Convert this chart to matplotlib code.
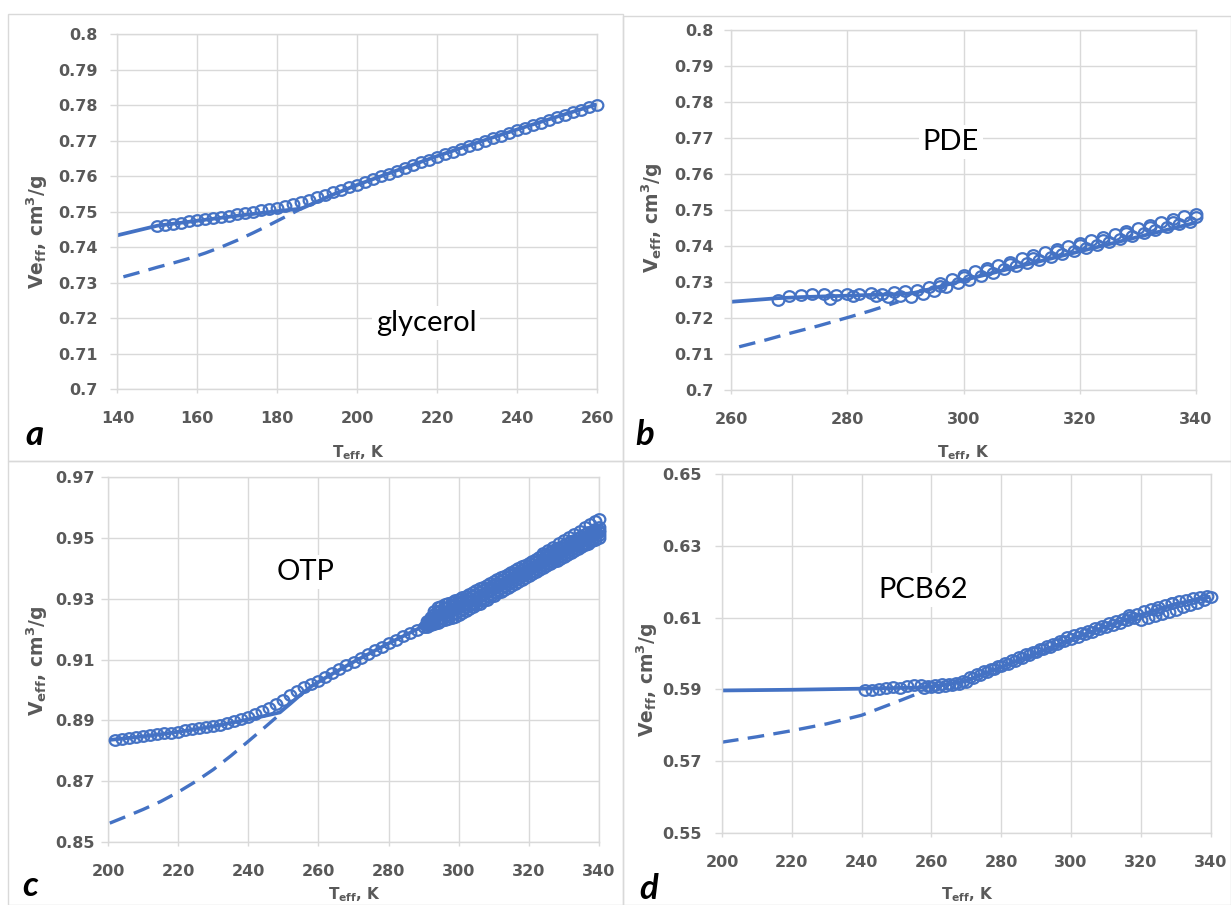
import matplotlib
matplotlib.use("Agg")
import matplotlib.pyplot as plt
import matplotlib.font_manager as fm
from matplotlib.path import Path
from matplotlib.transforms import Affine2D
from matplotlib.patches import Rectangle

W, H = 1231, 905
BLUE = '#4472C4'
GRID = '#D9D9D9'
TXT = '#595959'


def pick_family():
    for fam in ['Lato', 'Open Sans', 'Noto Sans', 'Liberation Sans']:
        try:
            path = fm.findfont(fm.FontProperties(family=fam, weight='bold'),
                               fallback_to_default=False)
            if 'bold' in path.lower():
                return fam
        except Exception:
            pass
    return 'DejaVu Sans'


FAM = pick_family()
AXF = ['DejaVu Sans']          # wide bold face for ticks / axis titles
plt.rcParams['font.family'] = [FAM, 'DejaVu Sans']

# ------------------------------------------------------------------ data
# (a) glycerol
a_circ_T = [150, 152, 154, 156, 158, 160, 162, 164, 166, 168, 170, 172, 174, 176, 178,
            180, 182, 184, 186, 188, 190, 192, 194, 196, 198, 200, 202, 204, 206, 208,
            210, 212, 214, 216, 218, 220, 222, 224, 226, 228, 230, 232, 234, 236, 238,
            240, 242, 244, 246, 248, 250, 252, 254, 256, 258, 260]
a_circ_V = [0.7460, 0.7463, 0.7466, 0.7469, 0.7472, 0.7475, 0.7478, 0.7481, 0.7485, 0.7488,
            0.7492, 0.7495, 0.7499, 0.7503, 0.7507, 0.7511, 0.7515, 0.7520, 0.7526, 0.7533,
            0.7540, 0.7547, 0.7554, 0.7561, 0.7568, 0.7575, 0.7583, 0.7591, 0.7599, 0.7607,
            0.7615, 0.7623, 0.7631, 0.7639, 0.7646, 0.7654, 0.7661, 0.7669, 0.7676, 0.7684,
            0.7691, 0.7699, 0.7706, 0.7714, 0.7721, 0.7729, 0.7736, 0.7743, 0.7750, 0.7757,
            0.7765, 0.7772, 0.7779, 0.7786, 0.7793, 0.7800]
a_solid_T = [140, 150, 160, 170, 180, 186, 190, 194, 198, 200, 210, 220, 230, 240, 250, 260]
a_solid_V = [0.7433, 0.7460, 0.7474, 0.7488, 0.7501, 0.7508, 0.7528, 0.7548, 0.7566, 0.7575,
             0.7616, 0.7656, 0.7694, 0.7731, 0.7767, 0.7802]
a_dash_T = [141.5, 146, 150, 154, 158, 162, 166, 170, 174, 178, 182, 186]
a_dash_V = [0.7316, 0.7330, 0.7343, 0.7355, 0.7368, 0.7383, 0.7400, 0.7419, 0.7440, 0.7462,
            0.7485, 0.7508]

# (b) PDE
b_circ1_T = [268, 270, 272, 274, 276, 278, 280, 282, 284, 286, 288, 290, 292, 294, 296, 298,
             300, 302, 304, 306, 308, 310, 312, 314, 316, 318, 320, 322, 324, 326, 328, 330,
             332, 334, 336, 338, 340]
b_circ1_V = [0.7251, 0.7260, 0.7265, 0.7266, 0.7266, 0.7265, 0.7266, 0.7268, 0.7270, 0.7266,
             0.7271, 0.7275, 0.7279, 0.7285, 0.7296, 0.7309, 0.7320, 0.7330, 0.7340, 0.7348,
             0.7356, 0.7366, 0.7375, 0.7383, 0.7392, 0.7401, 0.7409, 0.7417, 0.7425, 0.7434,
             0.7442, 0.7451, 0.7459, 0.7467, 0.7475, 0.7483, 0.7490]
b_circ2_T = [277, 281, 285, 287, 289, 291, 293, 295, 297, 299, 301, 303, 305, 307, 309, 311,
             313, 315, 317, 319, 321, 323, 325, 327, 329, 331, 333, 335, 337, 339]
b_circ2_V = [0.7254, 0.7260, 0.7262, 0.7257, 0.7262, 0.7259, 0.7268, 0.7276, 0.7286, 0.7296,
             0.7306, 0.7316, 0.7326, 0.7335, 0.7344, 0.7353, 0.7361, 0.7370, 0.7378, 0.7387,
             0.7395, 0.7403, 0.7411, 0.7420, 0.7428, 0.7436, 0.7444, 0.7452, 0.7460, 0.7467]
b_circ3_T = [296, 300, 304, 308, 312, 316, 320, 324, 328, 332, 336, 340]
b_circ3_V = [0.7290, 0.7313, 0.7333, 0.7350, 0.7368, 0.7386, 0.7402, 0.7418, 0.7435, 0.7452,
             0.7468, 0.7480]
b_solid_T = [260, 264, 268, 272, 276, 280, 284, 288, 291, 295, 300, 310, 320, 330, 340]
b_solid_V = [0.7245, 0.7250, 0.7255, 0.7258, 0.7260, 0.7262, 0.7264, 0.7266, 0.7268, 0.7283,
             0.7305, 0.7345, 0.7385, 0.7425, 0.7465]
b_dash_T = [261.4, 266, 270, 275, 280, 284, 288.8]
b_dash_V = [0.7120, 0.7139, 0.7157, 0.7178, 0.7201, 0.7220, 0.7245]

# (c) OTP
c_circ1_T = [202, 204, 206, 208, 210, 212, 214, 216, 218, 220, 222, 224, 226, 228, 230, 232,
             234, 236, 238, 240, 242, 244, 246, 248, 250, 252, 254, 256, 258, 260, 262, 264,
             266, 268, 270, 272, 274, 276, 278, 280, 282, 284, 286, 288, 290]
c_circ1_V = [0.8836, 0.8839, 0.8842, 0.8845, 0.8848, 0.8851, 0.8854, 0.8857, 0.8860, 0.8863,
             0.8867, 0.8870, 0.8874, 0.8878, 0.8882, 0.8886, 0.8891, 0.8897, 0.8904, 0.8912,
             0.8920, 0.8930, 0.8940, 0.8953, 0.8968, 0.8982, 0.8996, 0.9009, 0.9020, 0.9030,
             0.9043, 0.9056, 0.9069, 0.9081, 0.9093, 0.9106, 0.9118, 0.9130, 0.9142, 0.9153,
             0.9165, 0.9176, 0.9187, 0.9197, 0.9206]
c_band_odd_T = [291, 293, 295, 297, 299, 301, 303, 305, 307, 309, 311, 313, 315, 317, 319,
                321, 323, 325, 327, 329, 331, 333, 335, 337, 339]
c_band_even_T = [292, 294, 296, 298, 300, 302, 304, 306, 308, 310, 312, 314, 316, 318, 320,
                 322, 324, 326, 328, 330, 332, 334, 336, 338, 340]
# dense run, five strands from the lower to the upper edge of the band
c_bandA_odd = [0.9208, 0.9216, 0.9225, 0.9233, 0.9241, 0.9252, 0.9265, 0.9278, 0.9291, 0.9304,
               0.9317, 0.9330, 0.9343, 0.9356, 0.9369, 0.9381, 0.9394, 0.9406, 0.9419, 0.9431,
               0.9444, 0.9456, 0.9469, 0.9481, 0.9494]
c_bandA_even = [0.9212, 0.9220, 0.9229, 0.9237, 0.9245, 0.9258, 0.9271, 0.9284, 0.9297, 0.9310,
                0.9323, 0.9336, 0.9349, 0.9362, 0.9375, 0.9388, 0.9400, 0.9413, 0.9425, 0.9438,
                0.9450, 0.9463, 0.9475, 0.9488, 0.9500]
c_bandB_odd = [0.9212, 0.9227, 0.9238, 0.9246, 0.9254, 0.9265, 0.9278, 0.9291, 0.9303, 0.9316,
               0.9329, 0.9342, 0.9354, 0.9367, 0.9380, 0.9392, 0.9405, 0.9416, 0.9429, 0.9441,
               0.9454, 0.9466, 0.9478, 0.9490, 0.9503]
c_bandB_even = [0.9219, 0.9233, 0.9242, 0.9250, 0.9258, 0.9271, 0.9284, 0.9297, 0.9309, 0.9322,
                0.9335, 0.9348, 0.9360, 0.9373, 0.9386, 0.9399, 0.9411, 0.9423, 0.9435, 0.9448,
                0.9460, 0.9472, 0.9484, 0.9497, 0.9509]
c_bandC_odd = [0.9217, 0.9237, 0.9251, 0.9259, 0.9268, 0.9278, 0.9291, 0.9303, 0.9316, 0.9328,
               0.9341, 0.9353, 0.9366, 0.9378, 0.9391, 0.9403, 0.9415, 0.9427, 0.9439, 0.9451,
               0.9463, 0.9475, 0.9488, 0.9500, 0.9512]
c_bandC_even = [0.9226, 0.9246, 0.9255, 0.9263, 0.9272, 0.9284, 0.9297, 0.9309, 0.9322, 0.9334,
                0.9347, 0.9359, 0.9372, 0.9384, 0.9397, 0.9409, 0.9421, 0.9433, 0.9445, 0.9458,
                0.9469, 0.9482, 0.9494, 0.9506, 0.9518]
c_bandD_odd = [0.9221, 0.9248, 0.9263, 0.9272, 0.9281, 0.9291, 0.9303, 0.9316, 0.9328, 0.9340,
               0.9352, 0.9365, 0.9377, 0.9389, 0.9401, 0.9413, 0.9426, 0.9437, 0.9449, 0.9461,
               0.9473, 0.9485, 0.9497, 0.9509, 0.9520]
c_bandD_even = [0.9233, 0.9259, 0.9268, 0.9276, 0.9285, 0.9297, 0.9309, 0.9322, 0.9334, 0.9346,
                0.9358, 0.9371, 0.9383, 0.9395, 0.9407, 0.9420, 0.9432, 0.9443, 0.9455, 0.9468,
                0.9479, 0.9491, 0.9503, 0.9515, 0.9526]
c_bandE_odd = [0.9225, 0.9258, 0.9276, 0.9285, 0.9294, 0.9304, 0.9316, 0.9328, 0.9340, 0.9352,
               0.9364, 0.9376, 0.9388, 0.9400, 0.9412, 0.9424, 0.9436, 0.9447, 0.9459, 0.9471,
               0.9482, 0.9494, 0.9506, 0.9518, 0.9529]
c_bandE_even = [0.9240, 0.9272, 0.9281, 0.9289, 0.9298, 0.9310, 0.9322, 0.9334, 0.9346, 0.9358,
                0.9370, 0.9382, 0.9394, 0.9406, 0.9418, 0.9430, 0.9442, 0.9453, 0.9465, 0.9477,
                0.9488, 0.9500, 0.9512, 0.9523, 0.9535]
c_top_T = [324, 325.5, 327, 328.5, 330, 331.5, 333, 334.5, 336, 337.5, 339, 340]
c_top_V = [0.9450, 0.9461, 0.9471, 0.9482, 0.9492, 0.9503, 0.9513, 0.9524, 0.9534, 0.9545,
           0.9555, 0.9563]
c_solid_T = [200, 210, 220, 230, 240, 246, 249, 252, 255, 258, 262, 270, 280, 290, 300, 320, 340]
c_solid_V = [0.8835, 0.8847, 0.8862, 0.8880, 0.8903, 0.8918, 0.8926, 0.8955, 0.8985, 0.9012,
             0.9040, 0.9092, 0.9153, 0.9210, 0.9268, 0.9395, 0.9515]
c_dash_T = [200.5, 205, 210, 215, 220, 225, 230, 235, 240, 245, 249]
c_dash_V = [0.8562, 0.8583, 0.8607, 0.8633, 0.8664, 0.8699, 0.8738, 0.8783, 0.8831, 0.8880,
            0.8920]

# (d) PCB62
d_circ1_T = [241, 243, 245, 247, 249, 251, 253, 255, 257, 259, 261, 263, 265, 267, 269, 271,
             273, 275, 277, 279, 281, 283, 285, 287, 289, 291, 293, 295, 297, 299, 301, 303,
             305, 307, 309, 311, 313, 315, 317, 319, 321, 323, 325, 327, 329, 331, 333, 335,
             337, 339]
d_circ1_V = [0.5899, 0.5899, 0.5901, 0.5903, 0.5906, 0.5905, 0.5909, 0.5911, 0.5913, 0.5910,
             0.5912, 0.5914, 0.5915, 0.5917, 0.5923, 0.5934, 0.5942, 0.5950, 0.5957, 0.5965,
             0.5973, 0.5981, 0.5990, 0.5998, 0.6005, 0.6012, 0.6020, 0.6027, 0.6036, 0.6045,
             0.6052, 0.6058, 0.6064, 0.6071, 0.6077, 0.6084, 0.6090, 0.6097, 0.6103, 0.6110,
             0.6117, 0.6124, 0.6129, 0.6134, 0.6140, 0.6146, 0.6150, 0.6154, 0.6157, 0.6160]
d_circ2_T = [258, 260, 262, 264, 266, 268, 270, 272, 274, 276, 278, 280, 282, 284, 286, 288,
             290, 292, 294, 296, 298, 300, 302, 304, 306, 308, 310, 312, 314, 316, 318, 320,
             322, 324, 326, 328, 330, 332, 334, 336, 338, 340]
d_circ2_V = [0.5905, 0.5908, 0.5906, 0.5910, 0.5912, 0.5915, 0.5922, 0.5933, 0.5940, 0.5948,
             0.5956, 0.5964, 0.5972, 0.5980, 0.5988, 0.5996, 0.6004, 0.6012, 0.6019, 0.6027,
             0.6034, 0.6040, 0.6047, 0.6054, 0.6060, 0.6067, 0.6073, 0.6079, 0.6086, 0.6092,
             0.6098, 0.6092, 0.6099, 0.6104, 0.6110, 0.6116, 0.6122, 0.6129, 0.6135, 0.6142,
             0.6149, 0.6156]
d_circ3_T = [316.5, 324.7, 329]
d_circ3_V = [0.6106, 0.6122, 0.6141]
d_solid_T = [200, 220, 240, 250, 256, 260, 265, 270, 280, 290, 300, 310, 320, 330, 340]
d_solid_V = [0.5897, 0.5899, 0.5902, 0.5904, 0.5905, 0.5908, 0.5914, 0.5924, 0.5962, 0.6000,
             0.6040, 0.6075, 0.6108, 0.6138, 0.6158]
d_dash_T = [200, 210, 220, 230, 240, 250, 256]
d_dash_V = [0.5753, 0.5768, 0.5785, 0.5804, 0.5828, 0.5865, 0.5888]

# ticks
a_xticks = [140, 160, 180, 200, 220, 240, 260]
b_xticks = [260, 280, 300, 320, 340]
cd_xticks = [200, 220, 240, 260, 280, 300, 320, 340]
ab_yticks = [0.70, 0.71, 0.72, 0.73, 0.74, 0.75, 0.76, 0.77, 0.78, 0.79, 0.80]
ab_ylabels = ['0.7', '0.71', '0.72', '0.73', '0.74', '0.75', '0.76', '0.77', '0.78', '0.79', '0.8']
c_yticks = [0.85, 0.87, 0.89, 0.91, 0.93, 0.95, 0.97]
c_ylabels = ['0.85', '0.87', '0.89', '0.91', '0.93', '0.95', '0.97']
d_yticks = [0.55, 0.57, 0.59, 0.61, 0.63, 0.65]
d_ylabels = ['0.55', '0.57', '0.59', '0.61', '0.63', '0.65']

names = ['glycerol', 'PDE', 'OTP', 'PCB62']
letters = ['a', 'b', 'c', 'd']
ylab_eff = r'V$_{\mathregular{eff}}$, cm$^{\mathregular{3}}$/g'
ylab_ff = r'Ve$_{\mathregular{ff}}$, cm$^{\mathregular{3}}$/g'
xlab = r'T$_{\mathregular{eff}}$, K'

c_band = [(c_band_odd_T, c_bandA_odd), (c_band_even_T, c_bandA_even),
          (c_band_odd_T, c_bandB_odd), (c_band_even_T, c_bandB_even),
          (c_band_odd_T, c_bandC_odd), (c_band_even_T, c_bandC_even),
          (c_band_odd_T, c_bandD_odd), (c_band_even_T, c_bandD_even),
          (c_band_odd_T, c_bandE_odd), (c_band_even_T, c_bandE_even)]

# ------------------------------------------------------------------ layout
panels = [
    dict(box=(117.4, 597, 34, 389), xlim=(140, 260), ylim=(0.70, 0.80), xt=a_xticks,
         yt=ab_yticks, yl=ab_ylabels, ypad=9.4, ylab=ylab_ff,
         circ=[(a_circ_T, a_circ_V)], solid=(a_solid_T, a_solid_V), dash=(a_dash_T, a_dash_V),
         name_xy=(426, 323), letter_xy=(34, 445), xlab_xy=(358, 457), ylab_xy=(37, 232),
         frame=(8, 14, 623, 461)),
    dict(box=(731, 1196, 30, 390), xlim=(260, 340), ylim=(0.70, 0.80), xt=b_xticks,
         yt=ab_yticks, yl=ab_ylabels, ypad=7.6, ylab=ylab_eff,
         circ=[(b_circ1_T, b_circ1_V), (b_circ2_T, b_circ2_V), (b_circ3_T, b_circ3_V)],
         solid=(b_solid_T, b_solid_V), dash=(b_dash_T, b_dash_V),
         name_xy=(951, 142), letter_xy=(645, 445), xlab_xy=(963, 457), ylab_xy=(652, 218),
         frame=(623, 16, 1231, 461)),
    dict(box=(108, 599, 477, 842), xlim=(200, 340), ylim=(0.85, 0.97), xt=cd_xticks,
         yt=c_yticks, yl=c_ylabels, ypad=4.5, ylab=ylab_eff,
         circ=[(c_circ1_T, c_circ1_V)] + c_band + [(c_top_T, c_top_V)],
         solid=(c_solid_T, c_solid_V), dash=(c_dash_T, c_dash_V),
         name_xy=(306, 572), letter_xy=(30, 896), xlab_xy=(354, 899), ylab_xy=(37, 661),
         frame=(8, 461, 623, 905)),
    dict(box=(722, 1210.5, 474, 833), xlim=(200, 340), ylim=(0.55, 0.65), xt=cd_xticks,
         yt=d_yticks, yl=d_ylabels, ypad=9.4, ylab=ylab_ff,
         circ=[(d_circ1_T, d_circ1_V), (d_circ2_T, d_circ2_V), (d_circ3_T, d_circ3_V)],
         solid=(d_solid_T, d_solid_V), dash=(d_dash_T, d_dash_V),
         name_xy=(923, 590), letter_xy=(649, 899), xlab_xy=(967, 899), ylab_xy=(647, 680),
         frame=(623, 461, 1231, 905)),
]

ELLIPSE = Path.unit_circle().transformed(Affine2D().scale(1.1, 1.0))

fig = plt.figure(figsize=(W / 100, H / 100), dpi=100)
fig.patch.set_facecolor('white')


def fx(x):
    return x / W


def fy(y):
    return 1 - y / H


for i, p in enumerate(panels):
    fx0, fy0, fx1, fy1 = p['frame']
    fig.patches.append(Rectangle((fx(fx0), fy(fy1)), fx(fx1 - fx0), (fy1 - fy0) / H,
                                 transform=fig.transFigure, fill=False,
                                 edgecolor=GRID, lw=1.0, zorder=0))
    x0, x1, yt, yb = p['box']
    ax = fig.add_axes([fx(x0), fy(yb), (x1 - x0) / W, (yb - yt) / H])
    ax.set_xlim(*p['xlim'])
    ax.set_ylim(*p['ylim'])
    ax.set_xticks(p['xt'])
    ax.set_xticklabels([str(t) for t in p['xt']], fontweight='bold', family=AXF)
    ax.set_yticks(p['yt'])
    ax.set_yticklabels(p['yl'], fontweight='bold', family=AXF)
    ax.grid(True, color=GRID, lw=1.0)
    ax.set_axisbelow(True)
    for s in ax.spines.values():
        s.set_color(GRID)
        s.set_linewidth(1.0)
    ax.tick_params(axis='y', length=5, width=1, color=GRID, pad=p['ypad'],
                   labelsize=11.5, labelcolor=TXT)
    ax.tick_params(axis='x', length=3, width=1, color=GRID, pad=12.6,
                   labelsize=11.5, labelcolor=TXT)

    ax.plot(*p['solid'], color=BLUE, lw=2.7, solid_capstyle='butt', zorder=2)
    ax.plot(*p['dash'], color=BLUE, lw=2.4, dashes=(5, 2.8), zorder=2)
    for T, V in p['circ']:
        ax.plot(T, V, linestyle='none', marker=ELLIPSE, markersize=8.4,
                markerfacecolor='none', markeredgecolor=BLUE, markeredgewidth=1.6,
                clip_on=False, zorder=3)

    nx, ny = p['name_xy']
    fig.text(fx(nx), fy(ny), names[i], fontsize=21, color='black', ha='center', va='center',
             bbox=dict(facecolor='white', edgecolor='none', pad=3))
    lx, ly = p['letter_xy']
    fig.text(fx(lx), fy(ly), letters[i], fontsize=25, fontweight='bold', fontstyle='italic',
             color='black', ha='center', va='baseline')
    xx, xy = p['xlab_xy']
    fig.text(fx(xx), fy(xy), xlab, fontsize=11, fontweight='bold', color=TXT,
             family=AXF, ha='center', va='baseline')
    yx, yy = p['ylab_xy']
    fig.text(fx(yx), fy(yy), p['ylab'], fontsize=13.5, fontweight='bold', color=TXT,
             family=AXF, ha='center', va='center', rotation=90)

fig.savefig('out.png', dpi=100, facecolor='white')
